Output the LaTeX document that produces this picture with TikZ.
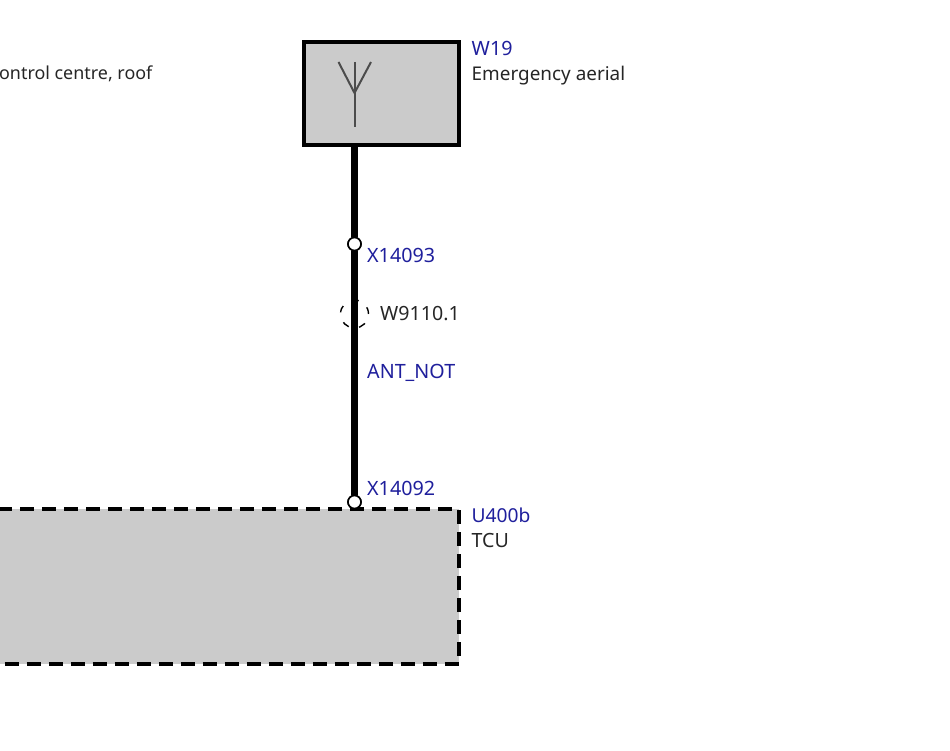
\documentclass[tikz,border=0pt]{standalone}
\usepackage{fontspec}
\setmainfont{Noto Sans}
\usepackage{xcolor}
\definecolor{part-blue}{HTML}{1F1F9C}
\definecolor{part-grey}{HTML}{CBCBCB}
\tikzset{
    part-box/.style = {draw=black, fill=part-grey, line width=4pt, rectangle, inner sep=0pt},
    part-box-dashed/.style = {part-box, dash pattern=on 14pt off 8pt},
    wire/.style = {line width=7pt, black},
    pin/.style = {draw=black, fill=white, line width=1.6pt, circle, inner sep=0pt, minimum size=13pt},
    shield/.style = {draw=black, line width=1.4pt, circle, inner sep=0pt, minimum size=28pt, dash pattern=on 7pt off 10.6pt},
    aerial-line/.style = {draw=black!70, line width=2pt},
    blue-label/.style = {text=part-blue, font=\fontsize{19.7}{21}\selectfont, inner sep=0pt, anchor=west},
    black-label/.style = {text=black!85, font=\fontsize{18.9}{21}\selectfont, inner sep=0pt, anchor=west},
}
\begin{document}
\begin{tikzpicture}[x=1pt,y=1pt]
\useasboundingbox (0,0) rectangle (950,750);
\clip (0,0) rectangle (950,750);
\node [part-box, minimum width=155pt, minimum height=103pt] (aerial-box) at (381,656) {};
\node [part-box-dashed, minimum width=498pt, minimum height=155pt] (tcu-box) at (209.5,163.5) {};
% wire
\node [pin] (pin-top) at (354.5,506) {};
\node [pin] (pin-bottom) at (354.5,248) {};
\draw [wire] (aerial-box.south -| pin-top) -- (pin-top);
\draw [wire] (pin-top) -- (pin-bottom);
\node [pin] at (pin-top) {};
\node [pin] at (pin-bottom) {};
\node [shield] (shield-ring) at (354.5,436) {};
% aerial symbol
\coordinate (mast-top) at (354.5,688);
\coordinate (mast-fork) at (354.5,657);
\coordinate (mast-foot) at (354.5,623);
\draw [aerial-line] (mast-top) -- (mast-foot);
\draw [aerial-line] (338.5,688) -- (mast-fork) -- (371,688);
% labels
\node [blue-label] (w19-id) at (471.5,702) {W19};
\node [black-label] (w19-name) at (471.5,674.5) {Emergency aerial};
\node [black-label, anchor=east, font=\fontsize{17.9}{21}\selectfont] (roof-name) at (152.5,676) {ontrol centre, roof};
\node [blue-label] (pin-top-id) at (367,495) {X14093};
\node [black-label, font=\fontsize{19.6}{21}\selectfont] (shield-id) at (380,436) {W9110.1};
\node [blue-label] (wire-id) at (367,377) {ANT\_NOT};
\node [blue-label] (pin-bottom-id) at (367,262) {X14092};
\node [blue-label, font=\fontsize{19.2}{21}\selectfont] (u400-id) at (471.5,235) {U400b};
\node [black-label, font=\fontsize{19.6}{21}\selectfont] (u400-name) at (471.5,209.5) {TCU};
\end{tikzpicture}
\end{document}
